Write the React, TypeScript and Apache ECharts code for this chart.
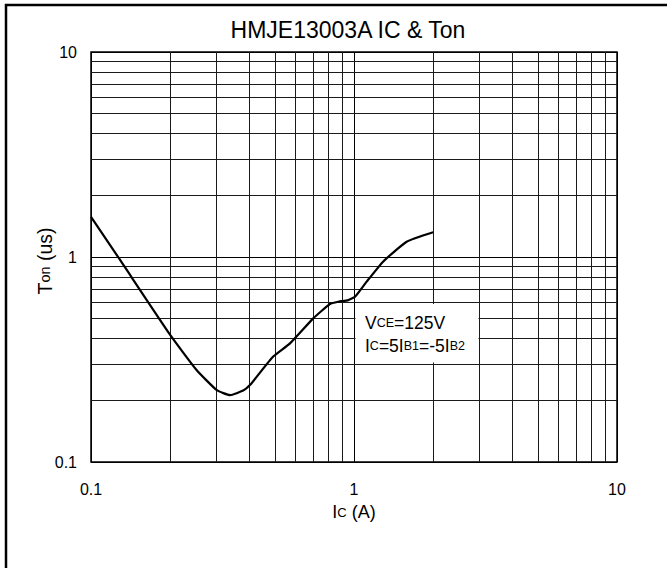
import React, { useEffect, useRef } from "react";
import * as echarts from "echarts";

const icValues = [0.1, 0.129, 0.2, 0.252, 0.301, 0.338, 0.379, 0.403, 0.427, 0.493, 0.571, 0.7, 0.81, 0.872, 0.951, 1.009, 1.117, 1.29, 1.585, 2.0];
const tonValues = [1.57, 0.967, 0.417, 0.281, 0.224, 0.212, 0.223, 0.238, 0.261, 0.327, 0.379, 0.502, 0.59, 0.605, 0.616, 0.64, 0.758, 0.949, 1.187, 1.32];
const minorGridValues = [0.2, 0.3, 0.4, 0.5, 0.6, 0.7, 0.8, 0.9, 2, 3, 4, 5, 6, 7, 8, 9];
const axisTicks = [0.1, 1, 10];

export default function App() {
  const ref = useRef<HTMLDivElement>(null);
  useEffect(() => {
    if (!ref.current) return;
    const chart = echarts.init(ref.current, null, { renderer: "svg" });
    const font = "Liberation Sans, Arial, sans-serif";
    const gridLines: any[] = [];
    minorGridValues.forEach((v) => {
      gridLines.push({ xAxis: v });
      gridLines.push({ yAxis: v });
    });
    const rich = (b: number, s: number) => ({
      b: { fontSize: b, fontFamily: font, fill: "#000", color: "#000" },
      s: { fontSize: s, fontFamily: font, fill: "#000", color: "#000" },
    });
    chart.setOption({
      animation: false,
      backgroundColor: "#fff",
      grid: {
        left: 91,
        top: 52,
        width: 526,
        height: 410,
        show: true,
        borderColor: "#000",
        borderWidth: 1.5,
        backgroundColor: "transparent",
      },
      xAxis: {
        type: "log",
        logBase: 10,
        min: axisTicks[0],
        max: axisTicks[2],
        axisLine: { show: false },
        axisTick: { show: false },
        axisLabel: { color: "#000", fontSize: 16, fontFamily: font, margin: 19 },
        splitLine: { show: true, lineStyle: { color: "#000", width: 1 } },
        minorTick: { show: false },
        minorSplitLine: { show: false },
      },
      yAxis: {
        type: "log",
        logBase: 10,
        min: axisTicks[0],
        max: axisTicks[2],
        axisLine: { show: false },
        axisTick: { show: false },
        axisLabel: { color: "#000", fontSize: 16, fontFamily: font, margin: 14 },
        splitLine: { show: true, lineStyle: { color: "#000", width: 1 } },
        minorTick: { show: false },
        minorSplitLine: { show: false },
      },
      series: [
        {
          type: "line",
          data: [],
          z: 1,
          silent: true,
          markLine: {
            silent: true,
            symbol: ["none", "none"],
            label: { show: false },
            lineStyle: { type: "solid", color: "#1a1a1a", width: 1 },
            data: gridLines,
            animation: false,
          },
        },
        {
          type: "line",
          z: 5,
          data: icValues.map((x, i) => [x, tonValues[i]]),
          showSymbol: false,
          symbol: "none",
          smooth: 0.15,
          lineStyle: { color: "#000", width: 2.2 },
        },
      ],
      graphic: [
        {
          type: "rect",
          z: 10,
          shape: { x: 6, y: 5, width: 700, height: 620 },
          style: { fill: "none", stroke: "#000", lineWidth: 2.5 },
          silent: true,
        },
        {
          type: "rect",
          z: 10,
          shape: { x: 355.5, y: 304, width: 123, height: 58.5 },
          style: { fill: "#fff" },
          silent: true,
        },
        {
          type: "text",
          z: 11,
          x: 348,
          y: 30,
          style: {
            text: "HMJE13003A IC & Ton",
            font: `23px ${font}`,
            fill: "#000",
            align: "center",
            verticalAlign: "middle",
          },
        },
        {
          type: "text",
          z: 11,
          x: 365,
          y: 323,
          style: {
            text: "{b|V}{s|CE}{b|=125V}",
            align: "left",
            verticalAlign: "middle",
            rich: rich(17.5, 12.5),
          },
        },
        {
          type: "text",
          z: 11,
          x: 365,
          y: 346,
          style: {
            text: "{b|I}{s|C}{b|=5I}{s|B1}{b|=-5I}{s|B2}",
            align: "left",
            verticalAlign: "middle",
            rich: rich(17.5, 12.5),
          },
        },
        {
          type: "text",
          z: 11,
          x: 354,
          y: 512,
          style: {
            text: "{b|I}{s|C}{b| (A)}",
            align: "center",
            verticalAlign: "middle",
            rich: rich(18, 13),
          },
        },
        {
          type: "text",
          z: 11,
          x: 45,
          y: 261,
          rotation: Math.PI / 2,
          style: {
            text: "{b|T}{s|on}{b| (us)}",
            align: "center",
            verticalAlign: "middle",
            rich: rich(19.5, 14.5),
          },
        },
      ],
    });
    return () => chart.dispose();
  }, []);
  return (
    <div
      ref={ref}
      style={{ position: "fixed", left: 0, top: 0, width: 667, height: 568 }}
    />
  );
}
